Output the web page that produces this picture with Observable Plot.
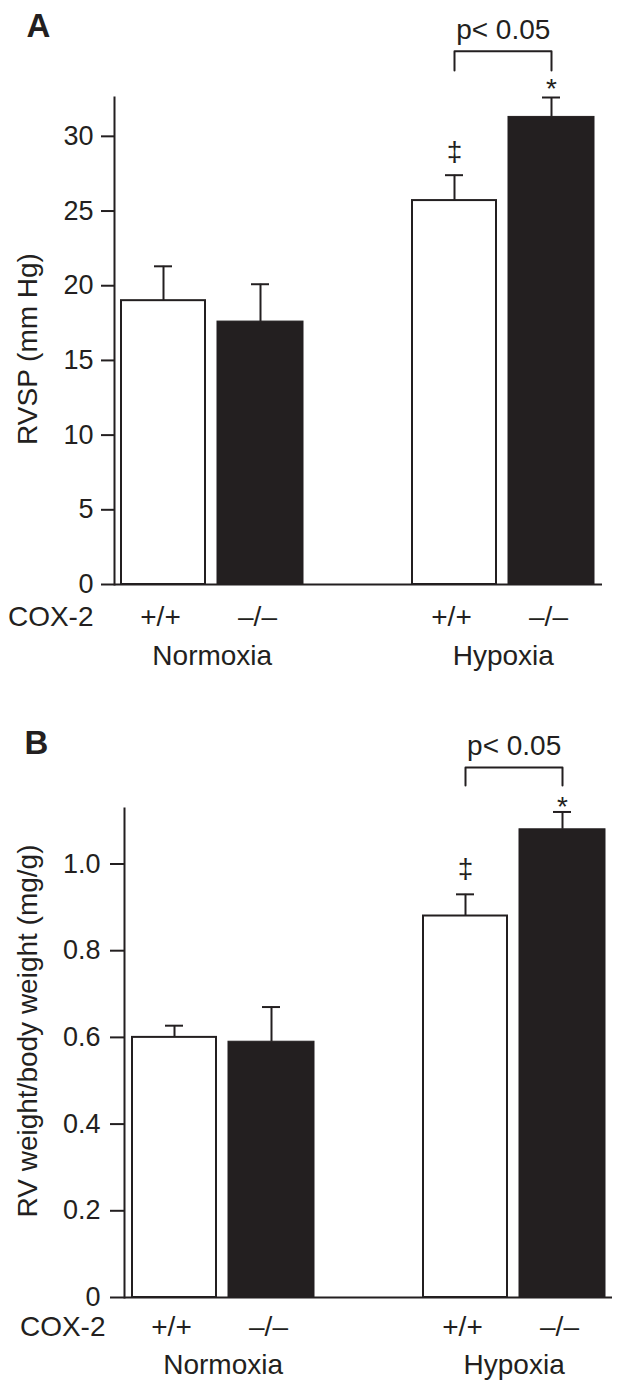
<!DOCTYPE html>
<html>
<head>
<meta charset="utf-8">
<script src="https://cdn.jsdelivr.net/npm/d3@7"></script>
<script src="https://cdn.jsdelivr.net/npm/@observablehq/plot@0.6"></script>
<style>
  html, body { margin: 0; padding: 0; background: #fff; }
  #chart { width: 622px; }
  #chart svg { display: block; }
</style>
</head>
<body>
<div id="chart"></div>
<script>
// ---- data ----
const conditions = ["Normoxia", "Normoxia", "Hypoxia", "Hypoxia"];
const genotypes = ["+/+", "–/–", "+/+", "–/–"];
const rowLabel = "COX-2";

// Panel A: RVSP (mm Hg)
const rvspMean = [19.0, 17.6, 25.7, 31.3];
const rvspSem = [2.3, 2.5, 1.7, 1.3];
const rvspTicks = [0, 5, 10, 15, 20, 25, 30];
const rvspTickLabels = ["0", "5", "10", "15", "20", "25", "30"];
const rvspBracket = [34.4, 35.7, 37.1];   // leg end, bracket, label level

// Panel B: RV weight/body weight (mg/g)
const rvMean = [0.60, 0.59, 0.88, 1.08];
const rvSem = [0.027, 0.08, 0.05, 0.04];
const rvTicks = [0, 0.2, 0.4, 0.6, 0.8, 1.0];
const rvTickLabels = ["0", "0.2", "0.4", "0.6", "0.8", "1.0"];
const rvBracket = [1.181, 1.2226, 1.273];

const significance = ["", "", "‡", "*"];
const comparison = { from: 2, to: 3, label: "p< 0.05" };

// ---- drawing ----
const ink = "#231f20";
const font = "Liberation Sans, Arial, Helvetica, sans-serif";
const fs = 28;

function panel(cfg) {
  const { letter, mean, sem, ticks, tickLabels, yMax, yLabel, bracket, L } = cfg;
  const keys = mean.map((_, i) => conditions[i] + " " + genotypes[i]);
  const domain = [keys[0], keys[1], " ", keys[2], keys[3]];
  const data = mean.map((m, i) => ({
    key: keys[i], cond: conditions[i], geno: genotypes[i],
    mean: m, hi: m + sem[i], sig: significance[i]
  }));
  const step = (L.xr[1] - L.xr[0]) / (domain.length - L.pad);
  const groupFirst = data.filter((d, i) => i === 0 || conditions[i] !== conditions[i - 1]);
  const kf = keys[comparison.from], kt = keys[comparison.to];
  const br = [
    { key: kf, y: bracket[0] }, { key: kf, y: bracket[1] },
    { key: kt, y: bracket[1] }, { key: kt, y: bracket[0] }
  ];
  return Plot.plot({
    width: 622,
    height: 694,
    marginLeft: L.ml, marginRight: L.mr, marginTop: L.mt, marginBottom: L.mb,
    style: { fontFamily: font, fontSize: fs + "px", color: ink, background: "#fff", overflow: "visible" },
    x: { type: "band", domain, range: L.xr, paddingInner: L.pad, paddingOuter: 0, axis: null },
    y: { domain: [0, yMax] },
    marks: [
      Plot.barY(data.filter(d => d.geno === "+/+"), { x: "key", y: "mean", fill: "#fff", stroke: ink, strokeWidth: 2, insetLeft: 1, insetRight: 1 }),
      Plot.barY(data.filter(d => d.geno !== "+/+"), { x: "key", y: "mean", fill: ink, stroke: ink, strokeWidth: 1 }),
      Plot.ruleX(data, { x: "key", y1: "mean", y2: "hi", stroke: ink, strokeWidth: 2 }),
      Plot.tickY(data, { x: "key", y: "hi", stroke: ink, strokeWidth: 2, insetLeft: 34, insetRight: 34 }),
      Plot.ruleY([0], { stroke: ink, strokeWidth: 2 }),
      Plot.frame({ anchor: "left", stroke: ink, strokeWidth: 2 }),
      Plot.axisY({
        ticks, tickSize: L.tickSize, tickPadding: L.tickPad,
        tickFormat: d => tickLabels[ticks.indexOf(d)],
        fontSize: 27, stroke: ink, strokeWidth: 2, label: null
      }),
      // significance symbols
      Plot.text(data.filter(d => d.sig === "‡"), { x: "key", y: "hi", text: "sig", lineAnchor: "bottom", dy: L.dagDy, fontSize: fs, fill: ink }),
      Plot.text(data.filter(d => d.sig === "*"), { x: "key", y: "hi", text: "sig", lineAnchor: "bottom", dy: L.starDy, fontSize: fs, fill: ink }),
      // comparison bracket
      Plot.line(br, { x: "key", y: "y", stroke: ink, strokeWidth: 2 }),
      Plot.text([comparison.label], { x: [kf], y: [bracket[2]], text: d => d, dx: step / 2, fontSize: fs, fill: ink }),
      // category labels
      Plot.text(data, { x: "key", text: "geno", frameAnchor: "bottom", lineAnchor: "bottom", dx: -3, dy: L.tickDy, fontSize: fs, fill: ink }),
      Plot.text(groupFirst, { x: "key", text: "cond", frameAnchor: "bottom", lineAnchor: "bottom", dx: step / 2, dy: L.groupDy, fontSize: fs, fill: ink }),
      Plot.text([rowLabel], { text: d => d, frameAnchor: "bottom-left", textAnchor: "end", lineAnchor: "bottom", dx: L.rowDx, dy: L.tickDy, fontSize: fs, fill: ink }),
      // y label
      Plot.text([yLabel], { text: d => d, frameAnchor: "left", rotate: -90, textAnchor: "middle", lineAnchor: "bottom", dx: L.labDx, dy: L.labDy, fontSize: fs, fill: ink }),
      // panel letter
      Plot.text([letter], { text: d => d, frameAnchor: "top-left", textAnchor: "start", lineAnchor: "top", dx: L.letDx, dy: L.letDy, fontSize: 33, fontWeight: "bold", fill: ink })
    ]
  });
}

const chart = document.getElementById("chart");
chart.appendChild(panel({
  letter: "A", mean: rvspMean, sem: rvspSem, ticks: rvspTicks, tickLabels: rvspTickLabels,
  yMax: 32.6, yLabel: "RVSP (mm Hg)", bracket: rvspBracket,
  L: { ml: 114, mr: 20, mt: 97, mb: 110, xr: [119, 595], pad: 0.118,
       tickSize: 13, tickPad: 8, dagDy: -14, starDy: 0,
       tickDy: 41, groupDy: 80, rowDx: -21, labDx: -78, labDy: 8, letDx: -88, letDy: -84 }
}));
chart.appendChild(panel({
  letter: "B", mean: rvMean, sem: rvSem, ticks: rvTicks, tickLabels: rvTickLabels,
  yMax: 1.128, yLabel: "RV weight/body weight (mg/g)", bracket: rvBracket,
  L: { ml: 124, mr: 10, mt: 114, mb: 91, xr: [130, 605], pad: 0.118,
       tickSize: 14, tickPad: 10, dagDy: -16, starDy: 4,
       tickDy: 38, groupDy: 76, rowDx: -19, labDx: -88, labDy: -22, letDx: -100, letDy: -78 }
}));
</script>
</body>
</html>
